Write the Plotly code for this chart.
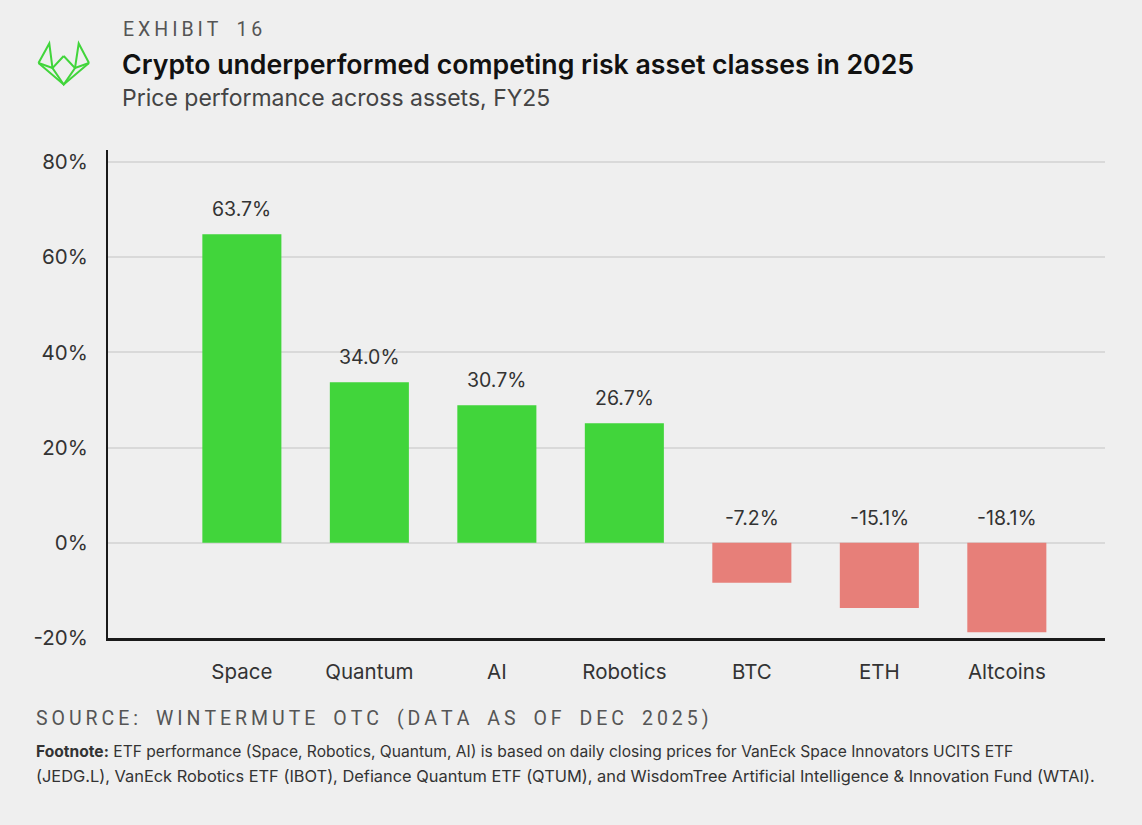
import plotly.graph_objects as go

# ---- data ----
categories = ["Space", "Quantum", "AI", "Robotics", "BTC", "ETH", "Altcoins"]
bar_heights = [64.8, 33.7, 28.9, 25.1, -8.4, -13.7, -18.8]   # heights as drawn (%)
value_labels = ["63.7%", "34.0%", "30.7%", "26.7%", "-7.2%", "-15.1%", "-18.1%"]
y_ticks = [-20, 0, 20, 40, 60, 80]
y_tick_labels = ["-20%", "0%", "20%", "40%", "60%", "80%"]

GREEN = "#41d53b"
RED = "#e77f79"
BG = "#efefef"

W, H = 1142, 825
L, R, T, B = 108, 37, 150, 187
PW, PH = W - L - R, H - T - B


def px(x):
    return (x - L) / PW


def py(y):
    return (H - B - y) / PH


colors = [GREEN if v >= 0 else RED for v in bar_heights]

fig = go.Figure()
fig.add_trace(go.Bar(
    x=categories, y=bar_heights, marker=dict(color=colors, line=dict(width=0)),
    width=0.62, hoverinfo="skip",
))

annotations = []
for c, v, lab in zip(categories, bar_heights, value_labels):
    annotations.append(dict(
        x=c, y=max(v, 0), xref="x", yref="y", text=lab, showarrow=False,
        yanchor="middle", yshift=25,
        font=dict(family="Inter, sans-serif", size=19.5, color="#333333"),
    ))


def spaced(s, sep="\u2009"):
    out = []
    for ch in s:
        if ch == " ":
            out.append("\u2002")
        else:
            out.append(ch)
    return sep.join(out)


annotations += [
    dict(x=px(121), y=py(30), xref="paper", yref="paper", xanchor="left", yanchor="middle",
         text=spaced("EXHIBIT 16"), showarrow=False,
         font=dict(family="Roboto, sans-serif", size=19.5, color="#555555")),
    dict(x=px(120), y=py(64), xref="paper", yref="paper", xanchor="left", yanchor="middle",
         text="Crypto underperformed competing risk asset classes in 2025", showarrow=False,
         font=dict(family="Inter, sans-serif", size=26.7, weight=600, color="#111111")),
    dict(x=px(120), y=py(98), xref="paper", yref="paper", xanchor="left", yanchor="middle",
         text="Price performance across assets, FY25", showarrow=False,
         font=dict(family="Inter, sans-serif", size=23, color="#444444")),
    dict(x=px(34), y=py(718), xref="paper", yref="paper", xanchor="left", yanchor="middle",
         text=spaced("SOURCE: WINTERMUTE OTC (DATA AS OF DEC 2025)"), showarrow=False,
         font=dict(family="Roboto, sans-serif", size=19.5, color="#555555")),
    dict(x=px(34), y=py(751), xref="paper", yref="paper", xanchor="left", yanchor="middle",
         text="<b>Footnote:</b> ETF performance (Space, Robotics, Quantum, AI) is based on daily closing prices for VanEck Space Innovators UCITS ETF",
         showarrow=False, font=dict(family="Inter, sans-serif", size=15.6, color="#333333")),
    dict(x=px(34), y=py(776), xref="paper", yref="paper", xanchor="left", yanchor="middle",
         text="(JEDG.L), VanEck Robotics ETF (IBOT), Defiance Quantum ETF (QTUM), and WisdomTree Artificial Intelligence &amp; Innovation Fund (WTAI).",
         showarrow=False, font=dict(family="Inter, sans-serif", size=16.4, color="#333333")),
]

# logo (decorative line drawing)
logo_pts = [
    [(38.5, 63), (49.3, 43.5), (52.5, 68), (38.5, 63)],
    [(89, 63), (78.7, 43.5), (75, 68), (89, 63)],
    [(63.7, 56), (75, 68), (63.7, 84.5), (52.5, 68), (63.7, 56)],
    [(38.5, 63), (63.7, 84.5), (89, 63)],
]
shapes = []
for poly in logo_pts:
    path = "M " + " L ".join(f"{px(a):.5f},{py(b):.5f}" for a, b in poly)
    shapes.append(dict(type="path", xref="paper", yref="paper", path=path,
                       line=dict(color=GREEN, width=2)))

# zero line
shapes.append(dict(type="line", xref="paper", yref="y", x0=0, x1=1, y0=0, y1=0,
                   line=dict(color="#a0a0a0", width=1.5), layer="below"))

fig.update_layout(
    width=W, height=H,
    margin=dict(l=L, r=R, t=T, b=B, pad=0),
    paper_bgcolor=BG, plot_bgcolor=BG,
    showlegend=False,
    annotations=annotations,
    shapes=shapes,
    xaxis=dict(
        range=[-1.05, 6.77], showgrid=False, zeroline=False,
        showline=True, linecolor="#1a1a1a", linewidth=3,
        ticks="", ticklabelstandoff=13,
        tickfont=dict(family="Inter, sans-serif", size=20.5, color="#333333"),
        fixedrange=True,
    ),
    yaxis=dict(
        range=[-20, 82.5], tickvals=y_ticks, ticktext=y_tick_labels,
        showgrid=True, gridcolor="#d9d9d9", gridwidth=1.5,
        zeroline=False,
        showline=True, linecolor="#1a1a1a", linewidth=2,
        ticks="", ticklabelstandoff=14,
        tickfont=dict(family="Inter, sans-serif", size=20.5, color="#333333"),
        fixedrange=True,
    ),
)

fig.write_html(
    "out.html",
    config={"displayModeBar": False},
    post_script="document.body.style.margin='0px';document.body.style.overflow='hidden';",
)
